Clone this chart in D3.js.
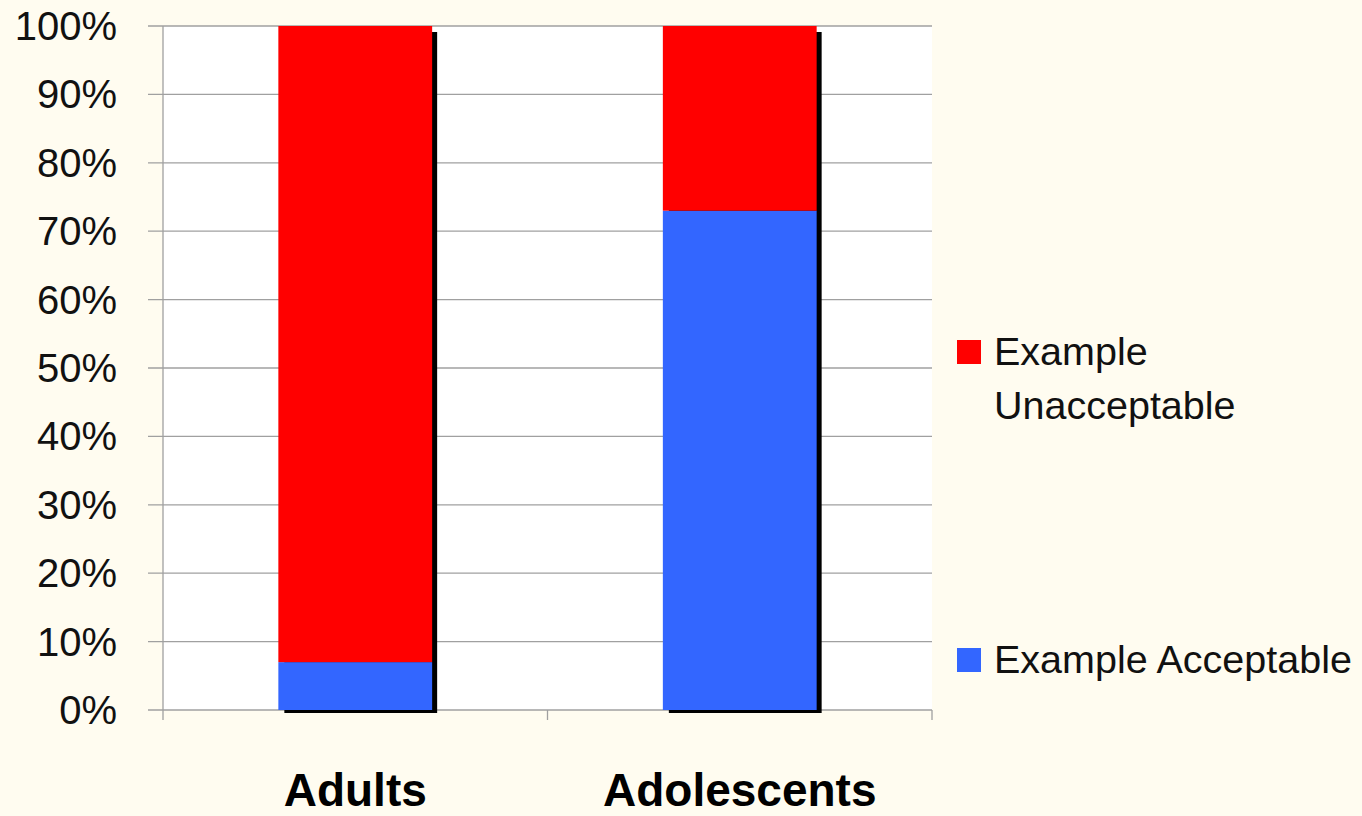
<!DOCTYPE html>
<html lang="en">
<head>
  <meta charset="UTF-8">
  <title>Example Acceptable vs Unacceptable</title>
  <script src="https://d3js.org/d3.v7.min.js"></script>
  <style>
    body {
      margin: 0;
      background: #fffcf0;
      font-family: "Liberation Sans", Arial, sans-serif;
    }
    .grid line { stroke: #a0a0a0; stroke-width: 1.3; }
    .ylab { font-size: 40px; fill: #111; }
    .xlab { font-size: 46px; font-weight: bold; fill: #000; }
    .legend-text { font-size: 39.5px; fill: #111; }
  </style>
</head>
<body>
  <div id="chart"></div>
  <script>
    const categories = ["Adults", "Adolescents"];
    const acceptable = [7, 73];
    const unacceptable = [93, 27];
    const yTicks = [0, 10, 20, 30, 40, 50, 60, 70, 80, 90, 100];
    const seriesNames = ["Example Acceptable", "Example Unacceptable"];
    const seriesColors = ["#3366ff", "#ff0000"];

    const W = 1362, H = 816;
    const margin = {top: 26, right: 430, bottom: 106, left: 163};
    const width = W - margin.left - margin.right,
      height = H - margin.top - margin.bottom;

    const svg = d3.select("#chart").append("svg")
      .attr("width", W).attr("height", H);
    const g = svg.append("g")
      .attr("transform", "translate(" + margin.left + "," + margin.top + ")");

    const x = d3.scaleBand().domain(categories).range([0, width]).padding(0);
    const y = d3.scaleLinear().domain([0, 100]).range([height, 0]);
    const barW = x.bandwidth() * 0.4;

    // plot area
    g.append("rect").attr("width", width).attr("height", height).attr("fill", "#fff");

    g.append("g").attr("class", "grid")
      .selectAll("line").data(yTicks).enter().append("line")
      .attr("x1", -15).attr("x2", width)
      .attr("y1", d => y(d)).attr("y2", d => y(d));

    g.append("line").attr("stroke", "#a0a0a0").attr("stroke-width", 1.3)
      .attr("x1", 0).attr("x2", 0).attr("y1", 0).attr("y2", height);

    // x ticks at category boundaries
    const bounds = [0, width / 2, width];
    g.append("g").selectAll("line").data(bounds).enter().append("line")
      .attr("stroke", "#a0a0a0").attr("stroke-width", 1.3)
      .attr("x1", d => d).attr("x2", d => d)
      .attr("y1", height).attr("y2", height + 10);

    g.append("g").selectAll("text").data(yTicks).enter().append("text")
      .attr("class", "ylab")
      .attr("x", -46).attr("y", d => y(d)).attr("dy", "0.35em")
      .attr("text-anchor", "end")
      .text(d => d + "%");

    const rows = categories.map((c, i) => ({cat: c, acc: acceptable[i], unacc: unacceptable[i]}));

    // shadows
    g.append("g").selectAll("path").data(rows).enter().append("path")
      .attr("fill", "#000")
      .attr("d", d => {
        const x0 = x(d.cat) + (x.bandwidth() - barW) / 2;
        const top = y(d.acc + d.unacc), bot = y(0);
        return "M" + (x0 + 6) + "," + (top + 6) + "H" + (x0 + barW + 5) + "V" + (bot + 3) +
          "H" + (x0 + 6) + "Z";
      });

    const bars = g.append("g").selectAll("g").data(rows).enter().append("g");
    bars.append("rect")
      .attr("x", d => x(d.cat) + (x.bandwidth() - barW) / 2)
      .attr("width", barW)
      .attr("y", d => y(d.acc))
      .attr("height", d => y(0) - y(d.acc))
      .attr("fill", seriesColors[0]);
    bars.append("rect")
      .attr("x", d => x(d.cat) + (x.bandwidth() - barW) / 2)
      .attr("width", barW)
      .attr("y", d => y(d.acc + d.unacc))
      .attr("height", d => y(d.acc) - y(d.acc + d.unacc))
      .attr("fill", seriesColors[1]);

    g.append("g").selectAll("text").data(categories).enter().append("text")
      .attr("class", "xlab")
      .attr("x", d => x(d) + x.bandwidth() / 2)
      .attr("y", height + 96)
      .attr("text-anchor", "middle")
      .text(d => d);

    // legend
    const legend = svg.append("g");
    legend.append("rect").attr("x", 957).attr("y", 340).attr("width", 24).attr("height", 24)
      .attr("fill", seriesColors[1]);
    legend.append("text").attr("class", "legend-text").attr("x", 994).attr("y", 365).text("Example");
    legend.append("text").attr("class", "legend-text").attr("x", 994).attr("y", 419).text("Unacceptable");
    legend.append("rect").attr("x", 957).attr("y", 648).attr("width", 24).attr("height", 24)
      .attr("fill", seriesColors[0]);
    legend.append("text").attr("class", "legend-text").attr("x", 994).attr("y", 673).text(seriesNames[0]);
  </script>
</body>
</html>
